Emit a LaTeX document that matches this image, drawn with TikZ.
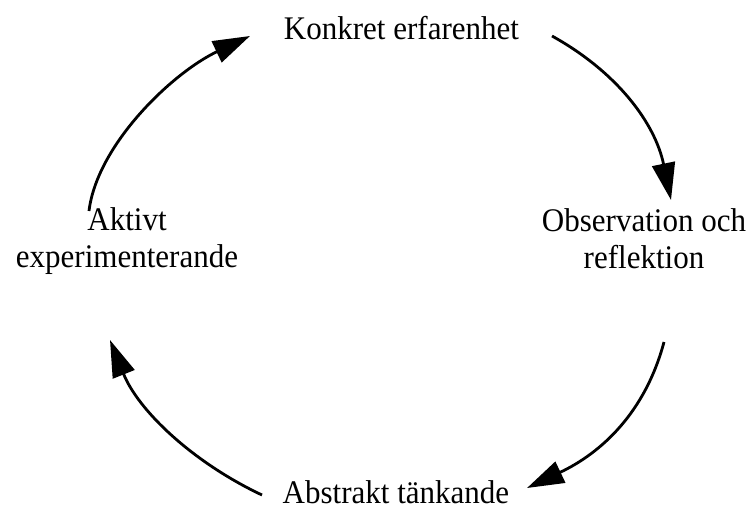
\documentclass[tikz,border=0pt]{standalone}
\usepackage{fontspec}
\setmainfont{Liberation Serif}[FakeStretch=0.94]
\usetikzlibrary{arrows.meta}
\tikzset{
  lbl/.style={font=\fontsize{33}{37}\selectfont, inner sep=0pt, align=center, anchor=base},
  cyc/.style={line width=2.8pt, -{Triangle[length=37pt,width=23pt]}}
}
\begin{document}
\begin{tikzpicture}[x=1pt,y=-1pt]
\useasboundingbox (0,0) rectangle (751,511);
\node[lbl] (ke) at (401.5,40) {Konkret erfarenhet};
\node[lbl] (or) at (644,268) {Observation och\\reflektion};
\node[lbl] (at) at (396,503) {Abstrakt tänkande};
\node[lbl] (ae) at (127,267) {Aktivt\\experimenterande};
\coordinate (s1) at (552,36);  \coordinate (e1) at (671,200);
\coordinate (s2) at (664,342); \coordinate (e2) at (527,488);
\coordinate (s3) at (262,495); \coordinate (e3) at (110,340);
\coordinate (s4) at (89,211);  \coordinate (e4) at (250,36);
\draw[cyc] (s1) .. controls (617,72) and (655,123) .. (e1);
\draw[cyc] (s2) .. controls (645,413) and (601,453) .. (e2);
\draw[cyc] (s3) .. controls (192,462) and (138,410) .. (e3);
\draw[cyc] (s4) .. controls (97,145) and (172,73) .. (e4);
\end{tikzpicture}
\end{document}
